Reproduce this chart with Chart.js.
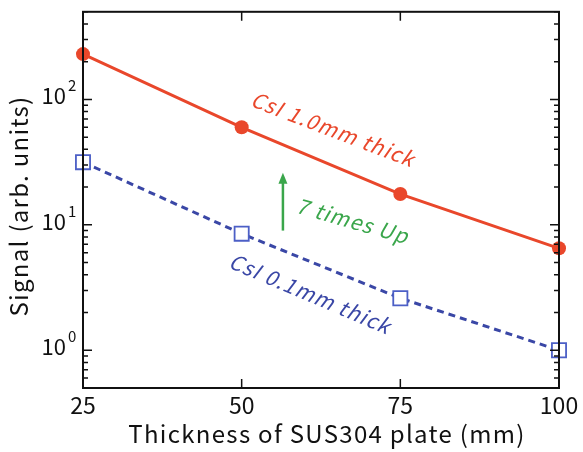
<!DOCTYPE html>
<html>
<head>
<meta charset="utf-8">
<script src="https://cdn.jsdelivr.net/npm/chart.js@4"></script>
<style>
  html, body { margin: 0; padding: 0; background: #fff; }
  #chart { display: block; }
</style>
</head>
<body>
<canvas id="chart" width="583" height="452"></canvas>
<script>
// plate thickness (mm)
const thickness = [25, 50, 75, 100];
// signal, arb. units
const csi10 = [230, 60, 17.6, 6.5];
const csi01 = [31.6, 8.5, 2.6, 1.0];
const xTicks = [25, 50, 75, 100];
const yMajor = [1, 10, 100];
const yLabels = ['0', '1', '2'];
const yMinor = [0.5, 0.6, 0.7, 0.8, 0.9, 2, 3, 4, 5, 6, 7, 8, 9,
  20, 30, 40, 50, 60, 70, 80, 90, 200, 300, 400, 500];

const FONT = '"Noto Sans CJK JP", "Noto Sans", sans-serif';
const RED = '#e9472b';
const BLUE = '#3a47a6';
const GREEN = '#3aa64b';

const toPoints = (ys) => thickness.map((x, i) => ({ x: x, y: ys[i] }));

// frame, inward ticks, labels, titles and notes
const decorations = {
  id: 'decorations',
  afterDatasetsDraw(chart) {
    const { ctx, chartArea: a } = chart;
    const xs = chart.scales.x;
    const ys = chart.scales.y;
    ctx.save();
    ctx.strokeStyle = '#111';
    ctx.lineWidth = 2;
    ctx.strokeRect(a.left, a.top, a.right - a.left, a.bottom - a.top);

    ctx.lineWidth = 1.5;
    ctx.beginPath();
    const yTick = (v, len) => {
      const y = ys.getPixelForValue(v);
      ctx.moveTo(a.left, y); ctx.lineTo(a.left + len, y);
      ctx.moveTo(a.right, y); ctx.lineTo(a.right - len, y);
    };
    yMajor.forEach((v) => yTick(v, 9));
    yMinor.forEach((v) => yTick(v, 5));
    xTicks.slice(1, -1).forEach((v) => {
      const x = xs.getPixelForValue(v);
      ctx.moveTo(x, a.bottom); ctx.lineTo(x, a.bottom - 9);
      ctx.moveTo(x, a.top); ctx.lineTo(x, a.top + 9);
    });
    ctx.stroke();

    // y labels 10^n
    ctx.fillStyle = '#111';
    ctx.textBaseline = 'alphabetic';
    yMajor.forEach((v, i) => {
      const y = ys.getPixelForValue(v);
      ctx.font = '22px ' + FONT;
      ctx.textAlign = 'right';
      ctx.fillText('10', 66, y + 5);
      ctx.font = '15px ' + FONT;
      ctx.textAlign = 'left';
      ctx.fillText(yLabels[i], 68, y - 8);
    });

    // axis titles
    ctx.letterSpacing = '1.3px';
    ctx.font = '24px ' + FONT;
    ctx.textAlign = 'center';
    ctx.fillText('Thickness of SUS304 plate (mm)', 327, 443);
    ctx.save();
    ctx.translate(28, 206);
    ctx.rotate(-Math.PI / 2);
    ctx.fillText('Signal (arb. units)', 0, 0);
    ctx.restore();

    // notes
    const note = (text, x, y, deg, color) => {
      ctx.save();
      ctx.translate(xs.getPixelForValue(x), ys.getPixelForValue(y));
      ctx.rotate(deg * Math.PI / 180);
      ctx.letterSpacing = '1.2px';
      ctx.font = 'italic 21px ' + FONT;
      ctx.fillStyle = color;
      ctx.textAlign = 'center';
      ctx.textBaseline = 'middle';
      ctx.fillText(text, 0, 0);
      ctx.restore();
    };
    note('CsI 1.0mm thick', 64.4, 58, 21, RED);
    note('CsI 0.1mm thick', 60.8, 2.83, 23, BLUE);
    note('7 times Up', 67.5, 10.8, 16, GREEN);

    // arrow
    const ax = xs.getPixelForValue(56.5);
    const y0 = ys.getPixelForValue(9);
    const y1 = ys.getPixelForValue(26);
    ctx.strokeStyle = GREEN;
    ctx.fillStyle = GREEN;
    ctx.lineWidth = 2.5;
    ctx.beginPath();
    ctx.moveTo(ax, y0); ctx.lineTo(ax, y1 + 8);
    ctx.stroke();
    ctx.beginPath();
    ctx.moveTo(ax, y1); ctx.lineTo(ax - 4.5, y1 + 11); ctx.lineTo(ax + 4.5, y1 + 11);
    ctx.closePath();
    ctx.fill();
    ctx.restore();
  }
};

new Chart(document.getElementById('chart'), {
  type: 'line',
  data: {
    datasets: [
      {
        label: 'CsI 1.0mm thick',
        data: toPoints(csi10),
        borderColor: RED,
        backgroundColor: RED,
        borderWidth: 3,
        pointRadius: 7,
        pointBackgroundColor: RED,
        pointBorderColor: RED,
        pointBorderWidth: 0,
        clip: false,
      },
      {
        label: 'CsI 0.1mm thick',
        data: toPoints(csi01),
        borderColor: BLUE,
        borderWidth: 3,
        borderDash: [7, 5],
        pointStyle: 'rect',
        pointRadius: 10,
        pointBackgroundColor: '#fff',
        pointBorderColor: '#4c5fc6',
        pointBorderWidth: 1.8,
        clip: false,
      },
    ],
  },
  options: {
    responsive: false,
    animation: false,
    devicePixelRatio: 1,
    layout: { padding: { top: 9, right: 24, left: 0, bottom: 0 } },
    plugins: { legend: { display: false }, tooltip: { enabled: false } },
    scales: {
      x: {
        type: 'linear',
        min: 25,
        max: 100,
        afterBuildTicks: (s) => { s.ticks = xTicks.map((v) => ({ value: v })); },
        grid: { display: false, drawTicks: false },
        border: { display: false },
        ticks: { color: '#111', padding: 3, font: { family: FONT, size: 23 } },
        afterFit: (s) => { s.height = 64; },
      },
      y: {
        type: 'logarithmic',
        min: 0.5,
        max: 500,
        grid: { display: false, drawTicks: false },
        border: { display: false },
        ticks: { display: false },
        afterFit: (s) => { s.width = 83; },
      },
    },
  },
  plugins: [decorations],
});
</script>
</body>
</html>
